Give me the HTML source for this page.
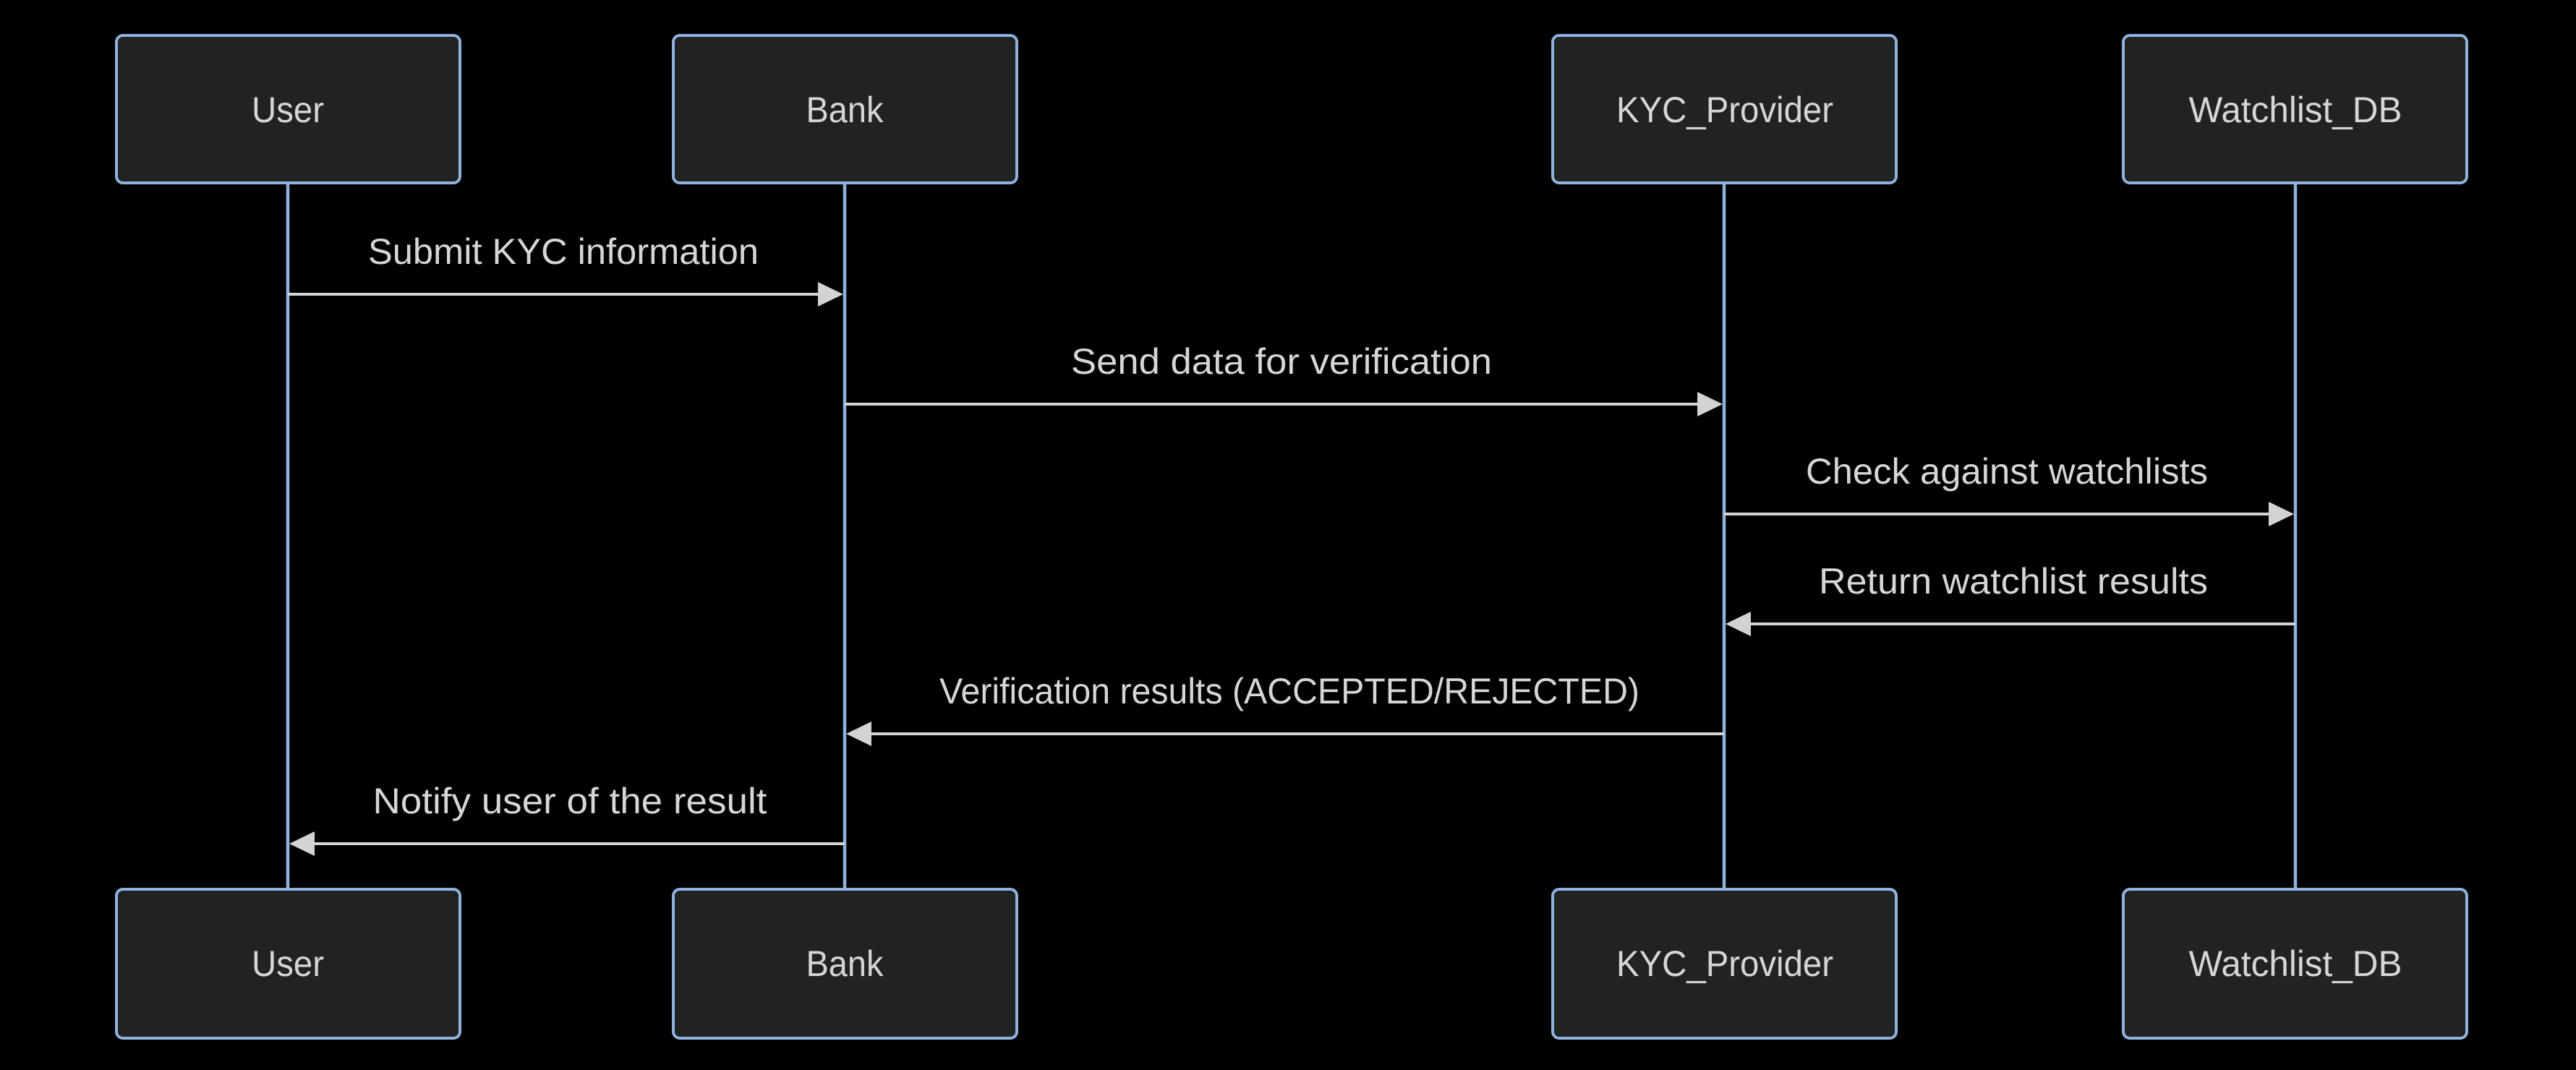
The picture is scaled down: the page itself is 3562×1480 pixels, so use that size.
<!DOCTYPE html>
<html><head><meta charset="utf-8"><style>
html,body{margin:0;padding:0;background:#000;}
svg{display:block}
text{font-family:"Liberation Sans",sans-serif;font-size:50px;fill:#d6d6d6;text-anchor:middle}
</style></head><body>
<svg width="3562" height="1480" viewBox="0 0 3562 1480" xmlns="http://www.w3.org/2000/svg">
<rect width="3562" height="1480" fill="#000"/>
<g stroke="#8fb2de" stroke-width="4.5">
<line x1="398" y1="253" x2="398" y2="1230"/>
<line x1="1168" y1="253" x2="1168" y2="1230"/>
<line x1="2384" y1="253" x2="2384" y2="1230"/>
<line x1="3174" y1="253" x2="3174" y2="1230"/>
</g>
<g fill="#212322" stroke="#8fb2de" stroke-width="4">
<rect x="161" y="49" width="475" height="204" rx="9"/>
<rect x="931" y="49" width="475" height="204" rx="9"/>
<rect x="2147" y="49" width="475" height="204" rx="9"/>
<rect x="2936" y="49" width="475" height="204" rx="9"/>
<rect x="161" y="1230" width="475" height="206" rx="9"/>
<rect x="931" y="1230" width="475" height="206" rx="9"/>
<rect x="2147" y="1230" width="475" height="206" rx="9"/>
<rect x="2936" y="1230" width="475" height="206" rx="9"/>
</g>
<g>
<text x="398" y="169" textLength="100" lengthAdjust="spacingAndGlyphs">User</text>
<text x="1168" y="169" textLength="107" lengthAdjust="spacingAndGlyphs">Bank</text>
<text x="2385" y="169" textLength="300" lengthAdjust="spacingAndGlyphs">KYC_Provider</text>
<text x="3174" y="169" textLength="295" lengthAdjust="spacingAndGlyphs">Watchlist_DB</text>
<text x="398" y="1350" textLength="100" lengthAdjust="spacingAndGlyphs">User</text>
<text x="1168" y="1350" textLength="107" lengthAdjust="spacingAndGlyphs">Bank</text>
<text x="2385" y="1350" textLength="300" lengthAdjust="spacingAndGlyphs">KYC_Provider</text>
<text x="3174" y="1350" textLength="295" lengthAdjust="spacingAndGlyphs">Watchlist_DB</text>
</g>
<g stroke="#d3d3d3" stroke-width="4">
<line x1="398" y1="407" x2="1135" y2="407"/>
<line x1="1168" y1="559" x2="2351" y2="559"/>
<line x1="2384" y1="711" x2="3141" y2="711"/>
<line x1="3174" y1="863" x2="2417" y2="863"/>
<line x1="2384" y1="1015" x2="1201" y2="1015"/>
<line x1="1168" y1="1167" x2="431" y2="1167"/>
</g>
<g fill="#d3d3d3">
<polygon points="1131,390 1166,407 1131,424"/>
<polygon points="2347,542 2382,559 2347,576"/>
<polygon points="3137,694 3172,711 3137,728"/>
<polygon points="2421,846 2386,863 2421,880"/>
<polygon points="1205,998 1170,1015 1205,1032"/>
<polygon points="435,1150 400,1167 435,1184"/>
</g>
<g>
<text x="779" y="365" textLength="540" lengthAdjust="spacingAndGlyphs">Submit KYC information</text>
<text x="1772" y="517" textLength="582" lengthAdjust="spacingAndGlyphs">Send data for verification</text>
<text x="2775" y="669" textLength="556" lengthAdjust="spacingAndGlyphs">Check against watchlists</text>
<text x="2784" y="821" textLength="538" lengthAdjust="spacingAndGlyphs">Return watchlist results</text>
<text x="1783" y="973" textLength="968" lengthAdjust="spacingAndGlyphs">Verification results (ACCEPTED/REJECTED)</text>
<text x="788" y="1125" textLength="545" lengthAdjust="spacingAndGlyphs">Notify user of the result</text>
</g>
</svg>
</body></html>
